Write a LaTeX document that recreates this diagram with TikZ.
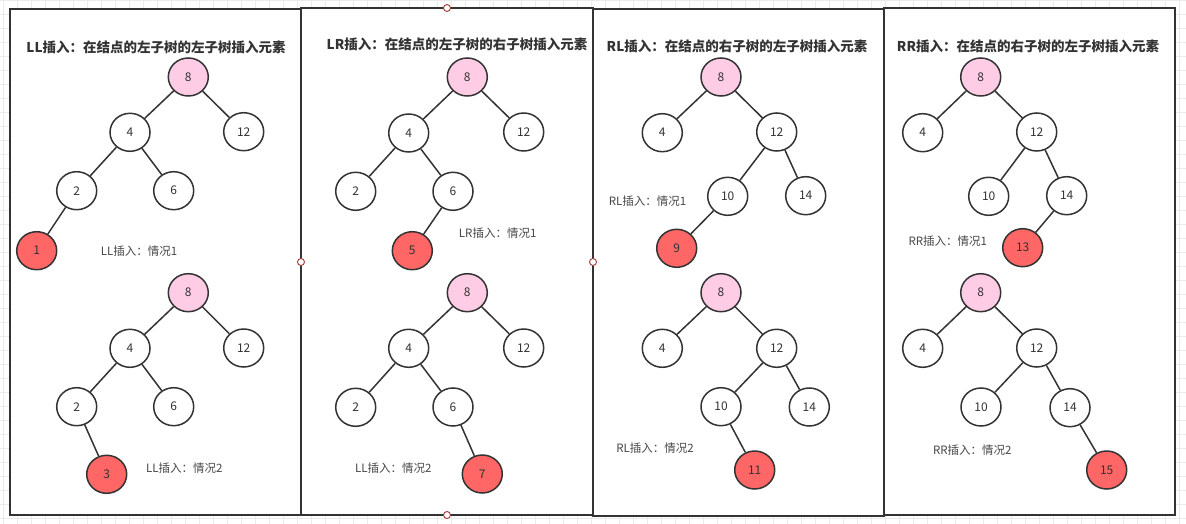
\documentclass[tikz,border=0pt]{standalone}
\usepackage{fontspec}
\setmainfont{Noto Sans CJK SC}
\usetikzlibrary{shapes.geometric}
\definecolor{ln}{HTML}{333333}
\definecolor{pinkf}{HTML}{FFCCE6}
\definecolor{redf}{HTML}{FF6666}
\definecolor{gridc}{HTML}{EBEBEB}
\definecolor{hdl}{HTML}{A33A3A}
\tikzset{
  panel/.style={draw=ln, line width=2pt, fill=white},
  nd/.style={ellipse, draw=ln, line width=1.5pt, fill=white, minimum width=40pt, minimum height=38pt, inner sep=0pt, text=ln, font=\fontsize{12pt}{12pt}\selectfont},
  rootn/.style={nd, fill=pinkf},
  insn/.style={nd, fill=redf},
  edge/.style={draw=ln, line width=1.5pt},
  ttl/.style={font=\fontsize{13.5pt}{13.5pt}\selectfont\bfseries, text=ln, inner sep=0pt},
  capn/.style={font=\fontsize{11.5pt}{11.5pt}\selectfont, text=ln!90, inner sep=0pt},
  handle/.style={circle, draw=hdl, line width=0.9pt, fill=white, minimum size=7pt, inner sep=0pt}
}
\begin{document}
\begin{tikzpicture}[x=1pt, y=-1pt]
\useasboundingbox (0,0) rectangle (1186,524);
\fill[white] (0,0) rectangle (1186,524);
% background grid
\foreach \i in {0,...,84} {\draw[gridc, line width=0.6pt] (3.3+14*\i,0) -- (3.3+14*\i,524);}
\foreach \j in {0,...,37} {\draw[gridc, line width=0.6pt] (0,14*\j) -- (1186,14*\j);}
% panels
\draw[panel] (10,9) rectangle (301,515);
\draw[panel] (301,8) rectangle (593,515);
\draw[panel] (593,9) rectangle (884,516);
\draw[panel] (884,8) rectangle (1175,515);
% titles
\node[ttl] (t1) at (156,47) {LL插入：在结点的左子树的左子树插入元素};
\node[ttl] (t2) at (457,44) {LR插入：在结点的左子树的右子树插入元素};
\node[ttl] (t3) at (737,46) {RL插入：在结点的右子树的左子树插入元素};
\node[ttl] (t4) at (1028,46) {RR插入：在结点的右子树的左子树插入元素};

% ---- Panel 1 top
\node[rootn] (a8) at (188.3,77) {8};
\node[nd] (a4) at (130,132.3) {4};
\node[nd] (a12) at (243.7,131.7) {12};
\node[nd] (a2) at (76.7,190.7) {2};
\node[nd] (a6) at (173.7,190.7) {6};
\node[insn] (a1) at (36.7,250.7) {1};
\draw[edge] (a8) -- (a4); \draw[edge] (a8) -- (a12);
\draw[edge] (a4) -- (a2); \draw[edge] (a4) -- (a6);
\draw[edge] (a2) -- (a1);
\node[capn] (ac) at (139,250.7) {LL插入：情况1};
% ---- Panel 1 bottom
\node[rootn] (b8) at (188.3,292.7) {8};
\node[nd] (b4) at (130,348.3) {4};
\node[nd] (b12) at (243.7,348) {12};
\node[nd] (b2) at (76.7,406.7) {2};
\node[nd] (b6) at (173.7,406.7) {6};
\node[insn] (b3) at (106.7,474.3) {3};
\draw[edge] (b8) -- (b4); \draw[edge] (b8) -- (b12);
\draw[edge] (b4) -- (b2); \draw[edge] (b4) -- (b6);
\draw[edge] (b2) -- (b3);
\node[capn] (bc) at (184.3,468.3) {LL插入：情况2};

% ---- Panel 2 top
\node[rootn] (c8) at (467.3,77) {8};
\node[nd] (c4) at (408.7,133) {4};
\node[nd] (c12) at (523.7,132) {12};
\node[nd] (c2) at (355.7,191.3) {2};
\node[nd] (c6) at (453,191.3) {6};
\node[insn] (c5) at (412.3,250.7) {5};
\draw[edge] (c8) -- (c4); \draw[edge] (c8) -- (c12);
\draw[edge] (c4) -- (c2); \draw[edge] (c4) -- (c6);
\draw[edge] (c6) -- (c5);
\node[capn] (cc) at (497.7,233.3) {LR插入：情况1};
% ---- Panel 2 bottom
\node[rootn] (d8) at (467.3,292.7) {8};
\node[nd] (d4) at (408.7,348.3) {4};
\node[nd] (d12) at (523.7,348) {12};
\node[nd] (d2) at (355.7,407.3) {2};
\node[nd] (d6) at (453,407) {6};
\node[insn] (d7) at (482.3,474) {7};
\draw[edge] (d8) -- (d4); \draw[edge] (d8) -- (d12);
\draw[edge] (d4) -- (d2); \draw[edge] (d4) -- (d6);
\draw[edge] (d6) -- (d7);
\node[capn] (dc) at (393.3,468.3) {LL插入：情况2};

% ---- Panel 3 top
\node[rootn] (e8) at (721,77) {8};
\node[nd] (e4) at (662.3,132.7) {4};
\node[nd] (e12) at (776.7,132) {12};
\node[nd] (e10) at (727.7,196.3) {10};
\node[nd] (e14) at (805.7,195.7) {14};
\node[insn] (e9) at (676.7,248.3) {9};
\draw[edge] (e8) -- (e4); \draw[edge] (e8) -- (e12);
\draw[edge] (e12) -- (e10); \draw[edge] (e12) -- (e14);
\draw[edge] (e10) -- (e9);
\node[capn] (ec) at (647.5,201) {RL插入：情况1};
% ---- Panel 3 bottom
\node[rootn] (f8) at (721,292.7) {8};
\node[nd] (f4) at (662.3,348.3) {4};
\node[nd] (f12) at (776.7,348.3) {12};
\node[nd] (f10) at (721,406.7) {10};
\node[nd] (f14) at (809.3,407) {14};
\node[insn] (f11) at (754.7,470) {11};
\draw[edge] (f8) -- (f4); \draw[edge] (f8) -- (f12);
\draw[edge] (f12) -- (f10); \draw[edge] (f12) -- (f14);
\draw[edge] (f10) -- (f11);
\node[capn] (fc) at (655,448.3) {RL插入：情况2};

% ---- Panel 4 top
\node[rootn] (g8) at (980.7,77) {8};
\node[nd] (g4) at (922.7,132.7) {4};
\node[nd] (g12) at (1036.7,132) {12};
\node[nd] (g10) at (988.7,196.3) {10};
\node[nd] (g14) at (1066.7,195.7) {14};
\node[insn] (g13) at (1022.7,247.7) {13};
\draw[edge] (g8) -- (g4); \draw[edge] (g8) -- (g12);
\draw[edge] (g12) -- (g10); \draw[edge] (g12) -- (g14);
\draw[edge] (g14) -- (g13);
\node[capn] (gc) at (947.8,240.7) {RR插入：情况1};
% ---- Panel 4 bottom
\node[rootn] (h8) at (980.7,292.7) {8};
\node[nd] (h4) at (922.7,348.3) {4};
\node[nd] (h12) at (1036.7,348) {12};
\node[nd] (h10) at (981,407) {10};
\node[nd] (h14) at (1070,407.7) {14};
\node[insn] (h15) at (1106.7,470) {15};
\draw[edge] (h8) -- (h4); \draw[edge] (h8) -- (h12);
\draw[edge] (h12) -- (h10); \draw[edge] (h12) -- (h14);
\draw[edge] (h14) -- (h15);
\node[capn] (hc) at (972.3,450) {RR插入：情况2};

% selection handles
\node[handle] (s1) at (447,8) {};
\node[handle] (s2) at (301,262) {};
\node[handle] (s3) at (593,262) {};
\node[handle] (s4) at (447,515) {};
\end{tikzpicture}
\end{document}
